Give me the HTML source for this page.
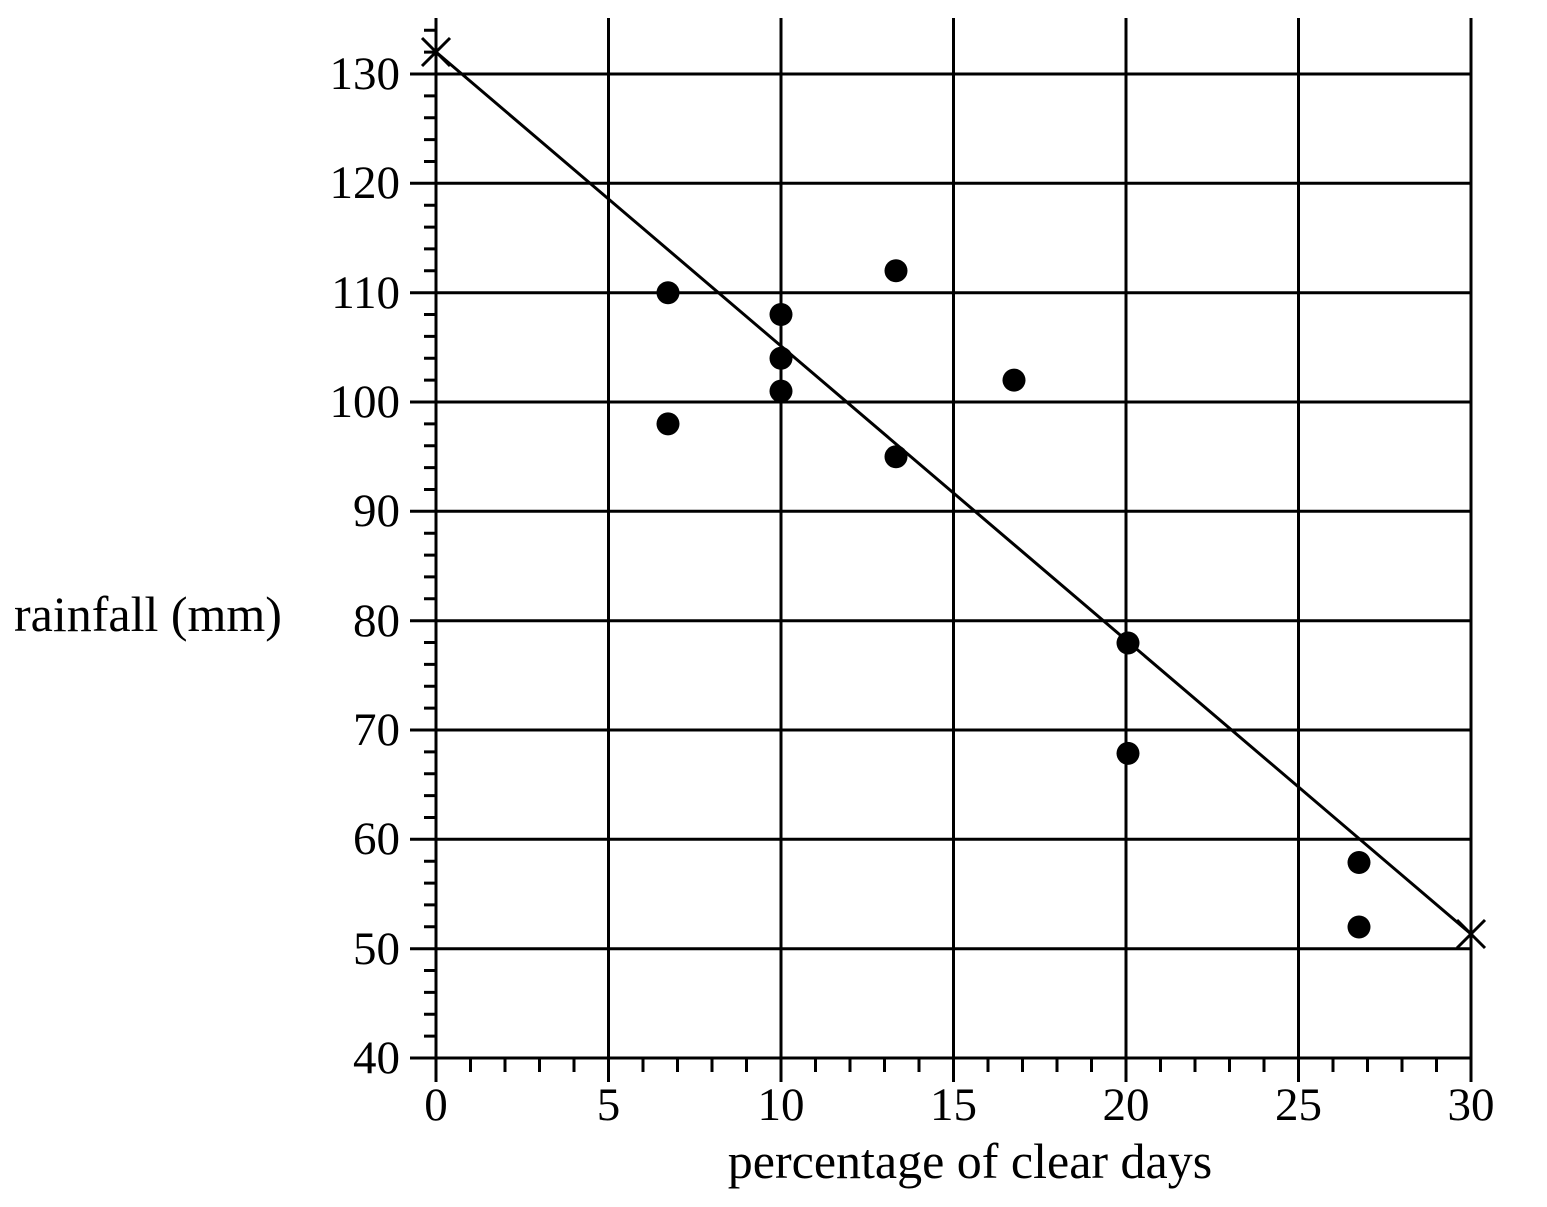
<!DOCTYPE html><html><head><style>body{margin:0;background:#fff}</style></head><body>
<svg width="1547" height="1202" xmlns="http://www.w3.org/2000/svg" font-family="Liberation Serif, serif" fill="#000">
<g stroke="#000" stroke-width="3">
<line x1="436" y1="18" x2="436" y2="1082"/>
<line x1="608.5" y1="18" x2="608.5" y2="1082"/>
<line x1="781" y1="18" x2="781" y2="1082"/>
<line x1="953.5" y1="18" x2="953.5" y2="1082"/>
<line x1="1126" y1="18" x2="1126" y2="1082"/>
<line x1="1298.5" y1="18" x2="1298.5" y2="1082"/>
<line x1="1471" y1="18" x2="1471" y2="1082"/>
<line x1="410" y1="74" x2="1471" y2="74"/>
<line x1="410" y1="183.3" x2="1471" y2="183.3"/>
<line x1="410" y1="292.7" x2="1471" y2="292.7"/>
<line x1="410" y1="402" x2="1471" y2="402"/>
<line x1="410" y1="511.3" x2="1471" y2="511.3"/>
<line x1="410" y1="620.7" x2="1471" y2="620.7"/>
<line x1="410" y1="730" x2="1471" y2="730"/>
<line x1="410" y1="839.3" x2="1471" y2="839.3"/>
<line x1="410" y1="948.7" x2="1471" y2="948.7"/>
<line x1="410" y1="1058" x2="1471" y2="1058"/>
</g>
<path stroke="#000" stroke-width="3" fill="none" d="M424 30.3H436M424 52.1H436M424 95.9H436M424 117.7H436M424 139.6H436M424 161.5H436M424 205.2H436M424 227.1H436M424 248.9H436M424 270.8H436M424 314.5H436M424 336.4H436M424 358.3H436M424 380.1H436M424 423.9H436M424 445.7H436M424 467.6H436M424 489.5H436M424 533.2H436M424 555.1H436M424 576.9H436M424 598.8H436M424 642.5H436M424 664.4H436M424 686.3H436M424 708.1H436M424 751.9H436M424 773.7H436M424 795.6H436M424 817.5H436M424 861.2H436M424 883.1H436M424 904.9H436M424 926.8H436M424 970.5H436M424 992.4H436M424 1014.3H436M424 1036.1H436
M470.5 1058V1072M505 1058V1072M539.5 1058V1072M574 1058V1072M643 1058V1072M677.5 1058V1072M712 1058V1072M746.5 1058V1072M815.5 1058V1072M850 1058V1072M884.5 1058V1072M919 1058V1072M988 1058V1072M1022.5 1058V1072M1057 1058V1072M1091.5 1058V1072M1160.5 1058V1072M1195 1058V1072M1229.5 1058V1072M1264 1058V1072M1333 1058V1072M1367.5 1058V1072M1402 1058V1072M1436.5 1058V1072"/>
<line x1="436" y1="52" x2="1471" y2="934" stroke="#000" stroke-width="3"/>
<g stroke="#000" stroke-width="3">
<line x1="422" y1="38" x2="450" y2="66"/><line x1="450" y1="38" x2="422" y2="66"/>
<line x1="1457" y1="920" x2="1485" y2="948"/><line x1="1485" y1="920" x2="1457" y2="948"/>
</g>
<g>
<circle cx="668" cy="292.7" r="11.5"/><circle cx="668" cy="423.9" r="11.5"/>
<circle cx="781" cy="314.5" r="11.5"/><circle cx="781" cy="358.3" r="11.5"/><circle cx="781" cy="391.1" r="11.5"/>
<circle cx="896" cy="270.8" r="11.5"/><circle cx="896" cy="456.7" r="11.5"/>
<circle cx="1014" cy="380.1" r="11.5"/>
<circle cx="1128" cy="643" r="11.5"/><circle cx="1128" cy="753.4" r="11.5"/>
<circle cx="1359" cy="862.5" r="11.5"/><circle cx="1359" cy="927" r="11.5"/>
</g>
<g font-size="47" text-anchor="end">
<text x="400" y="89">130</text><text x="400" y="198">120</text><text x="400" y="308">110</text>
<text x="400" y="417">100</text><text x="400" y="526">90</text><text x="400" y="636">80</text>
<text x="400" y="745">70</text><text x="400" y="854">60</text><text x="400" y="964">50</text><text x="400" y="1073">40</text>
</g>
<g font-size="47" text-anchor="middle">
<text x="436" y="1120">0</text><text x="608.5" y="1120">5</text><text x="781" y="1120">10</text>
<text x="953.5" y="1120">15</text><text x="1126" y="1120">20</text><text x="1298.5" y="1120">25</text><text x="1471" y="1120">30</text>
</g>
<text x="970" y="1178" font-size="50" text-anchor="middle">percentage of clear days</text>
<text x="14" y="631" font-size="50">rainfall (mm)</text>
</svg></body></html>
